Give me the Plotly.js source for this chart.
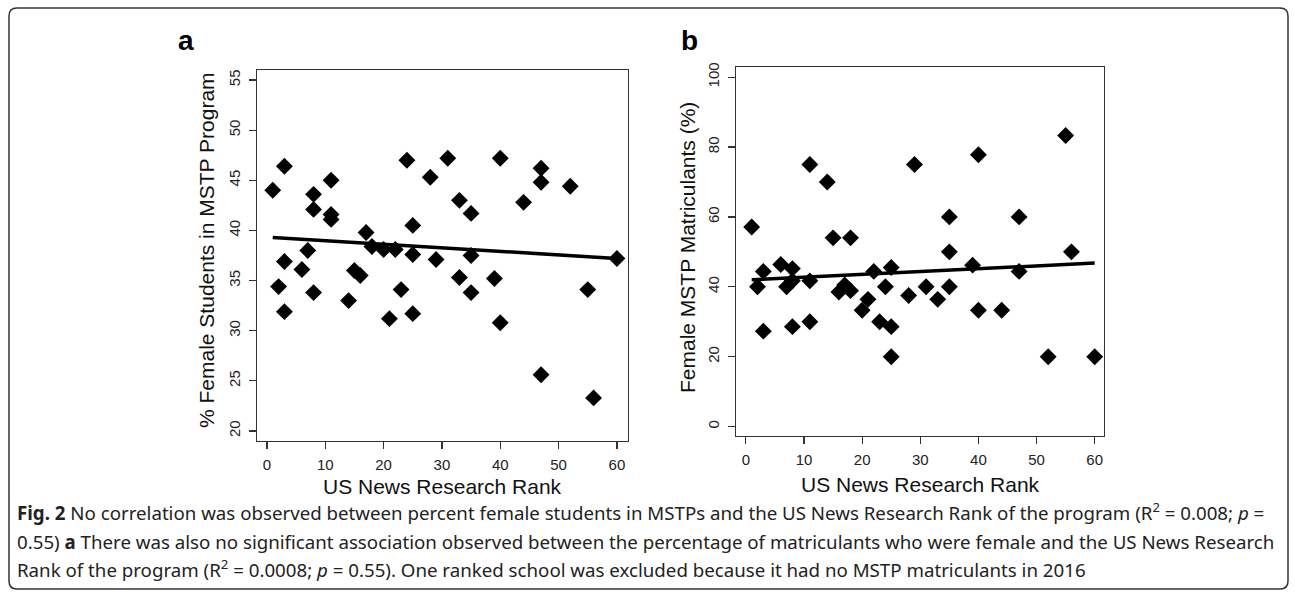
<!DOCTYPE html>
<html>
<head>
<meta charset="utf-8">
<script src="https://cdn.plot.ly/plotly-3.0.1.min.js"></script>
<style>
  html, body { margin: 0; padding: 0; background: #fff; }
  #chart { width: 1295px; height: 594px; }
</style>
</head>
<body>
<div id="chart"></div>
<script>
// ---- Panel a: % female students in MSTP program vs US News research rank
const rankA = [1, 2, 3, 3, 3, 6, 7, 8, 8, 8, 11, 11, 11, 14, 15, 16, 17, 18, 20, 22, 21, 23, 24, 25, 25, 25, 28, 29, 31, 33, 33, 35, 35, 35, 39, 40, 40, 44, 47, 47, 47, 52, 55, 56, 60];
const femaleA = [44.0, 34.4, 46.4, 36.9, 31.9, 36.1, 38.0, 43.6, 42.1, 33.8, 45.0, 41.6, 41.1, 33.0, 36.0, 35.5, 39.8, 38.4, 38.1, 38.1, 31.2, 34.1, 47.0, 40.5, 37.6, 31.7, 45.3, 37.1, 47.2, 43.0, 35.3, 41.7, 37.5, 33.8, 35.2, 47.2, 30.8, 42.8, 46.2, 44.8, 25.6, 44.4, 34.1, 23.3, 37.2];
// fitted line endpoints
const fitRankA = [1, 60];
const fitA = [39.3, 37.2];

// ---- Panel b: female MSTP matriculants (%) vs US News research rank
const rankB = [1, 2, 3, 3, 6, 7, 8, 8, 8, 11, 11, 11, 14, 15, 16, 17, 18, 18, 20, 21, 22, 23, 24, 25, 25, 25, 28, 29, 31, 33, 35, 35, 35, 39, 40, 40, 44, 47, 47, 52, 55, 56, 60];
const femaleB = [57.1, 40.0, 44.4, 27.3, 46.4, 40.0, 45.2, 41.7, 28.6, 75.0, 41.7, 30.0, 70.0, 54.0, 38.5, 40.5, 54.0, 38.9, 33.3, 36.4, 44.4, 30.0, 40.0, 45.5, 28.6, 20.0, 37.5, 75.0, 40.0, 36.4, 60.0, 50.0, 40.0, 46.2, 77.8, 33.3, 33.3, 60.0, 44.4, 20.0, 83.3, 50.0, 20.0];
const fitRankB = [1, 60];
const fitB = [42.0, 46.8];

// ---- Tick labels / texts
const xTicks = [0, 10, 20, 30, 40, 50, 60];
const yTicksA = [20, 25, 30, 35, 40, 45, 50, 55];
const yTicksB = [0, 20, 40, 60, 80, 100];
const xTitle = "US News Research Rank";
const yTitleA = "% Female Students in MSTP Program";
const yTitleB = "Female MSTP Matriculants (%)";
const captionLines = [
  "<b>Fig. 2</b> No correlation was observed between percent female students in MSTPs and the US News Research Rank of the program (R<sup>2</sup> = 0.008; <i>p</i> =",
  "0.55) <b>a</b> There was also no significant association observed between the percentage of matriculants who were female and the US News Research",
  "Rank of the program (R<sup>2</sup> = 0.0008; <i>p</i> = 0.55). One ranked school was excluded because it had no MSTP matriculants in 2016"
];

const W = 1295, H = 594;
const px = v => v / W;
const py = v => 1 - v / H;

const plotFont = "Liberation Sans, Arial, Helvetica, sans-serif";
const markerStyle = { symbol: "diamond", size: 13, color: "#000" };
const lineStyle = { color: "#000", width: 3.5 };

const traces = [
  { x: rankA, y: femaleA, type: "scatter", mode: "markers", marker: markerStyle, xaxis: "x", yaxis: "y" },
  { x: fitRankA, y: fitA, type: "scatter", mode: "lines", line: lineStyle, xaxis: "x", yaxis: "y" },
  { x: rankB, y: femaleB, type: "scatter", mode: "markers", marker: markerStyle, xaxis: "x2", yaxis: "y2" },
  { x: fitRankB, y: fitB, type: "scatter", mode: "lines", line: lineStyle, xaxis: "x2", yaxis: "y2" }
];

const axisCommon = {
  showgrid: false, zeroline: false, showline: true, mirror: true,
  linecolor: "#333", linewidth: 1.3,
  ticks: "outside", ticklen: 7, tickwidth: 1.2, tickcolor: "#333",
  tickfont: { family: plotFont, size: 15, color: "#222" },
  tickmode: "array"
};

function ann(text, x, y, size, angle, extra) {
  return Object.assign({
    text: text, x: px(x), y: py(y), xref: "paper", yref: "paper",
    xanchor: "center", yanchor: "middle", showarrow: false, textangle: angle || 0,
    font: { family: plotFont, size: size, color: "#111" }
  }, extra || {});
}

const layout = {
  width: W, height: H,
  margin: { l: 0, r: 0, t: 0, b: 0 },
  paper_bgcolor: "#fff", plot_bgcolor: "#fff",
  showlegend: false,
  xaxis: Object.assign({}, axisCommon, {
    domain: [px(257), px(628)], range: [-1.7, 61.9], tickvals: xTicks, anchor: "y", ticklabelstandoff: 3
  }),
  yaxis: Object.assign({}, axisCommon, {
    domain: [py(441), py(70)], range: [19, 56], tickvals: yTicksA, tickangle: -90, anchor: "x", ticklabelstandoff: 3
  }),
  xaxis2: Object.assign({}, axisCommon, {
    domain: [px(736), px(1104)], range: [-1.7, 61.6], tickvals: xTicks, anchor: "y2", ticklabelstandoff: 3
  }),
  yaxis2: Object.assign({}, axisCommon, {
    domain: [py(436), py(67)], range: [-2.7, 102.9], tickvals: yTicksB, tickangle: -90, anchor: "x2", ticklabelstandoff: 3
  }),
  annotations: [
    ann("<b>a</b>", 186, 40, 28, 0, { font: { family: plotFont, size: 28, color: "#000" } }),
    ann("<b>b</b>", 689, 40, 28, 0, { font: { family: plotFont, size: 28, color: "#000" } }),
    ann(xTitle, 442, 486, 21),
    ann(xTitle, 920, 484, 21),
    ann(yTitleA, 207, 250, 21, -90),
    ann(yTitleB, 687, 248, 21, -90)
  ].concat(captionLines.map((t, i) => ({
    text: t, x: px(15), y: py([511, 541, 568][i]), xref: "paper", yref: "paper",
    xanchor: "left", yanchor: "middle", showarrow: false, align: "left",
    font: { family: "Noto Sans, Open Sans, sans-serif", size: 18.7, color: "#222" }
  }))),
  shapes: [
    {
      type: "path", xref: "paper", yref: "paper",
      path: (function () {
        const l = 9, t = 8, r = 1288, b = 589, rad = 8;
        const X = v => px(v), Y = v => py(v);
        return "M " + X(l + rad) + " " + Y(t) +
          " L " + X(r - rad) + " " + Y(t) +
          " Q " + X(r) + " " + Y(t) + " " + X(r) + " " + Y(t + rad) +
          " L " + X(r) + " " + Y(b - rad) +
          " Q " + X(r) + " " + Y(b) + " " + X(r - rad) + " " + Y(b) +
          " L " + X(l + rad) + " " + Y(b) +
          " Q " + X(l) + " " + Y(b) + " " + X(l) + " " + Y(b - rad) +
          " L " + X(l) + " " + Y(t + rad) +
          " Q " + X(l) + " " + Y(t) + " " + X(l + rad) + " " + Y(t) + " Z";
      })(),
      line: { color: "#333", width: 1.5 }
    }
  ]
};

Plotly.newPlot("chart", traces, layout, { displayModeBar: false, staticPlot: true });
</script>
</body>
</html>
